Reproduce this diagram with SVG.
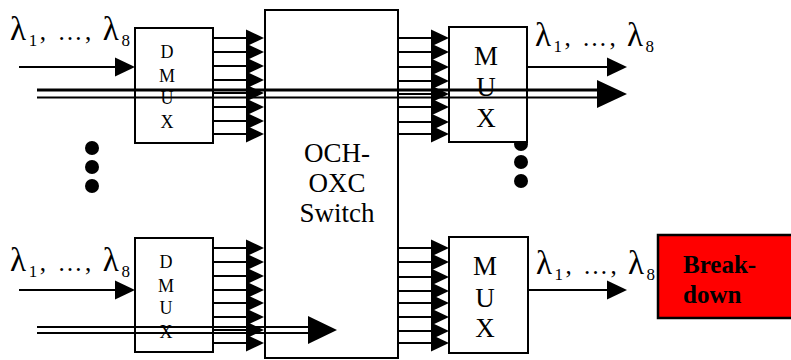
<svg xmlns="http://www.w3.org/2000/svg" width="791" height="360" viewBox="0 0 791 360">
<style>
.box{fill:#fff;stroke:#000;stroke-width:2}
.ln{stroke:#000;stroke-width:2;fill:none}
.dl{stroke:#000;stroke-width:3;fill:none}
.ah{fill:#000}
.lam{font-family:"Liberation Serif","Times New Roman",serif;font-size:25px;fill:#000}
.L{font-size:33px}
.sub{font-size:17px}
.dm{font-family:"Liberation Serif","Times New Roman",serif;font-size:18px;fill:#000;text-anchor:middle}
.mx{font-family:"Liberation Serif","Times New Roman",serif;font-size:27px;fill:#000;text-anchor:middle}
.sw{font-family:"Liberation Serif","Times New Roman",serif;font-size:27px;fill:#000;text-anchor:middle}
.bd{font-family:"Liberation Serif","Times New Roman",serif;font-size:25px;font-weight:bold;fill:#000}
</style>
<defs>
<path id="tri" d="M-18,-8.5 L0,0 L-18,8.5 Z"/>
<path id="big" d="M-20,-9.5 L0,0 L-20,9.5 Z"/>
</defs>

<!-- dots -->
<g id="dots-left">
<circle cx="92" cy="148" r="7"/>
<circle cx="92" cy="167" r="7"/>
<circle cx="92" cy="186" r="7"/>
</g>
<g id="dots-right">
<circle cx="521" cy="144" r="7"/>
<circle cx="521" cy="162" r="7"/>
<circle cx="521" cy="181" r="7"/>
</g>

<g id="switch">
<rect class="box" x="265" y="10" width="133" height="348"/>
<text class="sw" x="337" y="162">OCH-</text>
<text class="sw" x="337" y="192">OXC</text>
<text class="sw" x="337" y="222">Switch</text>
</g>

<g id="dmux1">
<rect class="box" x="135" y="28" width="78" height="115"/>
<text class="dm" x="167" y="58">D</text>
<text class="dm" x="167" y="82">M</text>
<text class="dm" x="167" y="104">U</text>
<text class="dm" x="167" y="128">X</text>
</g>

<g id="dmux2">
<rect class="box" x="135" y="238" width="78" height="114"/>
<text class="dm" x="166" y="268">D</text>
<text class="dm" x="166" y="292">M</text>
<text class="dm" x="166" y="314">U</text>
<text class="dm" x="166" y="338">X</text>
</g>

<g id="mux1">
<rect class="box" x="449" y="27" width="78" height="115"/>
<text class="mx" x="486" y="65">M</text>
<text class="mx" x="486" y="96">U</text>
<text class="mx" x="486" y="127">X</text>
</g>

<g id="mux2">
<rect class="box" x="449" y="237" width="79" height="116"/>
<text class="mx" x="485" y="275">M</text>
<text class="mx" x="485" y="307">U</text>
<text class="mx" x="485" y="337">X</text>
</g>

<g id="breakdown">
<rect x="658" y="235" width="140" height="83" fill="#ff0000" stroke="#000" stroke-width="2.5"/>
<text class="bd" x="683" y="273">Break-</text>
<text class="bd" x="683" y="303">down</text>
</g>

<g id="labels">
<text class="lam" x="10" y="40" textLength="120" lengthAdjust="spacing"><tspan class="L">λ</tspan><tspan class="sub" dy="6">1</tspan><tspan dy="-6">, …, </tspan><tspan class="L">λ</tspan><tspan class="sub" dy="6">8</tspan></text>
<text class="lam" x="535" y="46" textLength="119" lengthAdjust="spacing"><tspan class="L">λ</tspan><tspan class="sub" dy="6">1</tspan><tspan dy="-6">, …, </tspan><tspan class="L">λ</tspan><tspan class="sub" dy="6">8</tspan></text>
<text class="lam" x="10" y="271" textLength="120" lengthAdjust="spacing"><tspan class="L">λ</tspan><tspan class="sub" dy="6">1</tspan><tspan dy="-6">, …, </tspan><tspan class="L">λ</tspan><tspan class="sub" dy="6">8</tspan></text>
<text class="lam" x="536" y="274" textLength="119" lengthAdjust="spacing"><tspan class="L">λ</tspan><tspan class="sub" dy="6">1</tspan><tspan dy="-6">, …, </tspan><tspan class="L">λ</tspan><tspan class="sub" dy="6">8</tspan></text>
</g>

<g id="connectors">
<!-- inputs -->
<line class="ln" x1="19" y1="67" x2="118" y2="67"/>
<use href="#big" x="135" y="67" class="ah"/>
<line class="ln" x1="19" y1="290" x2="118" y2="290"/>
<use href="#big" x="135" y="290" class="ah"/>
<!-- outputs -->
<line class="ln" x1="527" y1="67" x2="610" y2="67"/>
<use href="#big" x="627" y="67" class="ah"/>
<line class="ln" x1="528" y1="290" x2="610" y2="290"/>
<use href="#big" x="627" y="290" class="ah"/>

<!-- top DMUX to switch -->
<g>
<line class="ln" x1="213" y1="38" x2="250" y2="38"/>
<line class="ln" x1="213" y1="52" x2="250" y2="52"/>
<line class="ln" x1="213" y1="66" x2="250" y2="66"/>
<line class="ln" x1="213" y1="80" x2="250" y2="80"/>
<line class="ln" x1="213" y1="93" x2="250" y2="93"/>
<line class="ln" x1="213" y1="107" x2="250" y2="107"/>
<line class="ln" x1="213" y1="121" x2="250" y2="121"/>
<line class="ln" x1="213" y1="134" x2="250" y2="134"/>
<use href="#tri" x="264" y="38"/><use href="#tri" x="264" y="52"/><use href="#tri" x="264" y="66"/><use href="#tri" x="264" y="80"/>
<use href="#tri" x="264" y="93"/><use href="#tri" x="264" y="107"/><use href="#tri" x="264" y="121"/><use href="#tri" x="264" y="134"/>
</g>
<!-- bottom DMUX to switch -->
<g>
<line class="ln" x1="213" y1="248" x2="250" y2="248"/>
<line class="ln" x1="213" y1="262" x2="250" y2="262"/>
<line class="ln" x1="213" y1="276" x2="250" y2="276"/>
<line class="ln" x1="213" y1="290" x2="250" y2="290"/>
<line class="ln" x1="213" y1="303" x2="250" y2="303"/>
<line class="ln" x1="213" y1="317" x2="250" y2="317"/>
<line class="ln" x1="213" y1="330" x2="250" y2="330"/>
<line class="ln" x1="213" y1="343" x2="250" y2="343"/>
<use href="#tri" x="264" y="248"/><use href="#tri" x="264" y="262"/><use href="#tri" x="264" y="276"/><use href="#tri" x="264" y="290"/>
<use href="#tri" x="264" y="303"/><use href="#tri" x="264" y="317"/><use href="#tri" x="264" y="330"/><use href="#tri" x="264" y="343"/>
</g>
<!-- switch to top MUX -->
<g>
<line class="ln" x1="398" y1="38" x2="435" y2="38"/>
<line class="ln" x1="398" y1="52" x2="435" y2="52"/>
<line class="ln" x1="398" y1="67" x2="435" y2="67"/>
<line class="ln" x1="398" y1="81" x2="435" y2="81"/>
<line class="ln" x1="398" y1="94" x2="435" y2="94"/>
<line class="ln" x1="398" y1="107" x2="435" y2="107"/>
<line class="ln" x1="398" y1="122" x2="435" y2="122"/>
<line class="ln" x1="398" y1="134" x2="435" y2="134"/>
<use href="#tri" x="449" y="38"/><use href="#tri" x="449" y="52"/><use href="#tri" x="449" y="67"/><use href="#tri" x="449" y="81"/>
<use href="#tri" x="449" y="94"/><use href="#tri" x="449" y="107"/><use href="#tri" x="449" y="122"/><use href="#tri" x="449" y="134"/>
</g>
<!-- switch to bottom MUX -->
<g>
<line class="ln" x1="398" y1="248" x2="435" y2="248"/>
<line class="ln" x1="398" y1="262" x2="435" y2="262"/>
<line class="ln" x1="398" y1="277" x2="435" y2="277"/>
<line class="ln" x1="398" y1="291" x2="435" y2="291"/>
<line class="ln" x1="398" y1="303" x2="435" y2="303"/>
<line class="ln" x1="398" y1="317" x2="435" y2="317"/>
<line class="ln" x1="398" y1="331" x2="435" y2="331"/>
<line class="ln" x1="398" y1="343" x2="435" y2="343"/>
<use href="#tri" x="449" y="248"/><use href="#tri" x="449" y="262"/><use href="#tri" x="449" y="277"/><use href="#tri" x="449" y="291"/>
<use href="#tri" x="449" y="303"/><use href="#tri" x="449" y="317"/><use href="#tri" x="449" y="331"/><use href="#tri" x="449" y="343"/>
</g>

<!-- double lines -->
<line class="dl" x1="37" y1="90" x2="600" y2="90"/>
<line class="ln" x1="37" y1="97.5" x2="600" y2="97.5" stroke-width="2.5"/>
<path d="M597,80 L627,94 L597,108 Z"/>
<line class="ln" x1="37" y1="327" x2="310" y2="327" stroke-width="2.5"/>
<line class="ln" x1="37" y1="333" x2="310" y2="333" stroke-width="2.5"/>
<path d="M308,316 L337,330 L308,344 Z"/>
</g>
</svg>
